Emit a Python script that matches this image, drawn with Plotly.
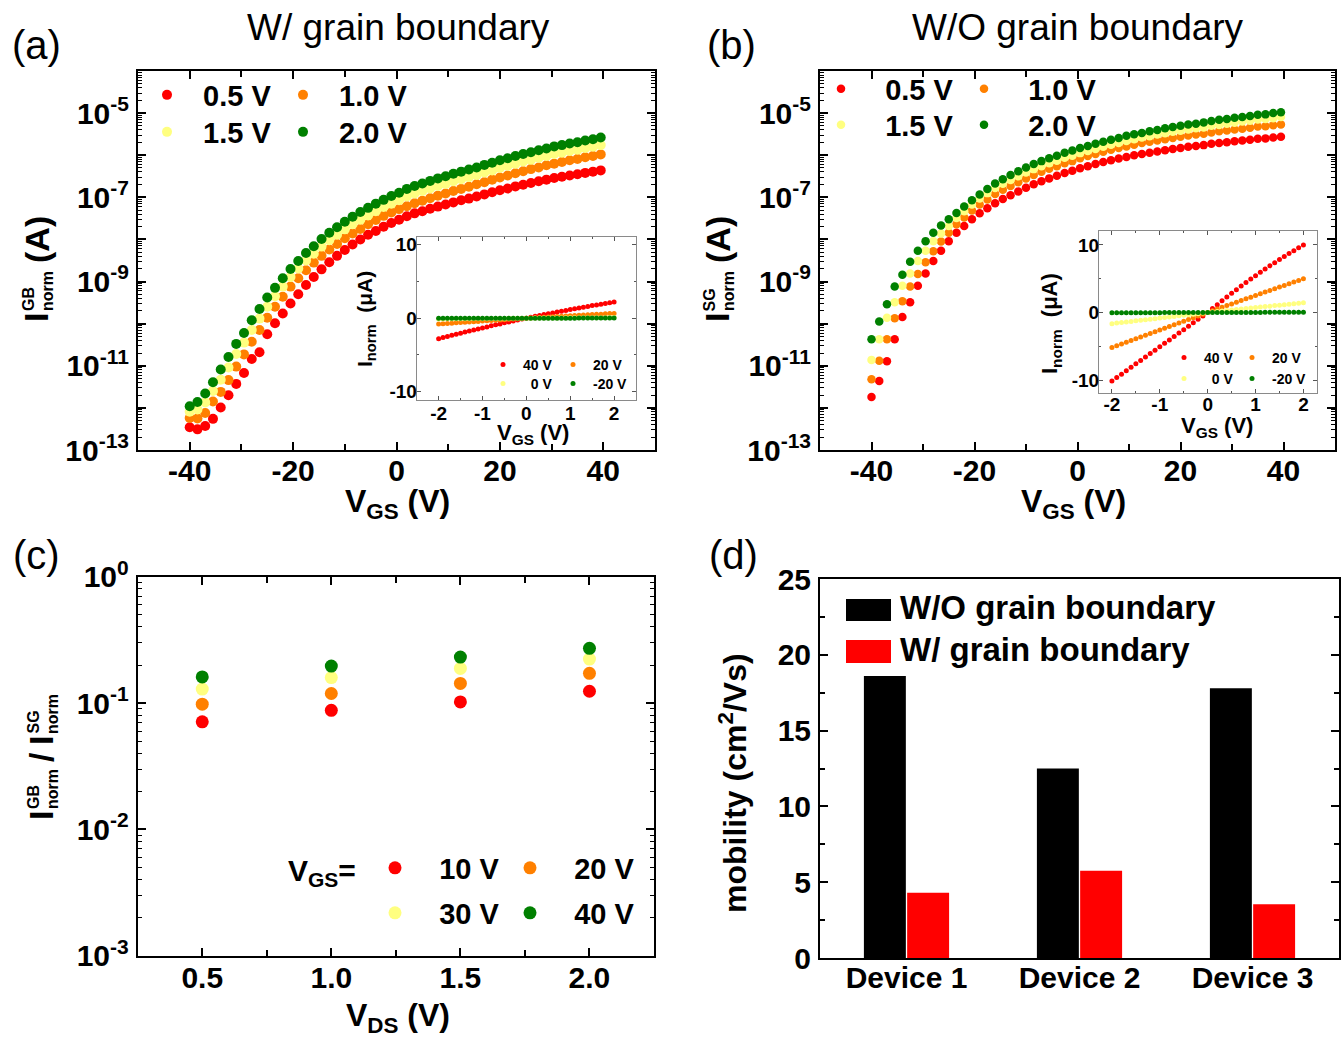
import plotly.graph_objects as go

W, H = 1341, 1039
FONT = "Liberation Sans, Arial, sans-serif"
RED, ORANGE, YELLOW, GREEN = "#FF0000", "#FF8000", "#FFFF80", "#008000"

def fx(px):
    return px / W

def fy(py):
    return 1 - py / H

# ---------------- data ----------------
VGS = [-40.0, -38.5, -37.0, -35.5, -34.0, -32.5, -31.0, -29.5, -28.0, -26.5,
       -25.0, -23.5, -22.0, -20.5, -19.0, -17.5, -16.0, -14.5, -13.0, -11.5,
       -10.0, -8.5, -7.0, -5.5, -4.0, -2.5, -1.0, 0.5, 2.0, 3.5,
       5.0, 6.5, 8.0, 9.5, 11.0, 12.5, 14.0, 15.5, 17.0, 18.5,
       20.0, 21.5, 23.0, 24.5, 26.0, 27.5, 29.0, 30.5, 32.0, 33.5,
       35.0, 36.5, 38.0, 39.5]
VDS_LABELS = ["0.5 V", "1.0 V", "1.5 V", "2.0 V"]

# log10 of I_norm (A), with grain boundary (panel a)
LOG_GB_05 = [-12.46, -12.51, -12.43, -12.26, -11.99, -11.70, -11.43, -11.17, -10.84, -10.68,
             -10.25, -9.99, -9.76, -9.52, -9.30, -9.08, -8.89, -8.71, -8.54, -8.39,
             -8.25, -8.12, -8.00, -7.89, -7.80, -7.70, -7.61, -7.53, -7.45, -7.38,
             -7.33, -7.27, -7.22, -7.17, -7.12, -7.07, -7.03, -6.98, -6.93, -6.88,
             -6.83, -6.79, -6.74, -6.70, -6.66, -6.62, -6.58, -6.54, -6.51, -6.48,
             -6.45, -6.42, -6.39, -6.36]
LOG_GB_10 = [-12.24, -12.25, -12.12, -11.85, -11.62, -11.34, -11.02, -10.73, -10.43, -10.15,
             -9.86, -9.60, -9.36, -9.12, -8.92, -8.73, -8.55, -8.39, -8.24, -8.11,
             -7.97, -7.86, -7.75, -7.64, -7.54, -7.44, -7.36, -7.28, -7.21, -7.14,
             -7.08, -7.02, -6.96, -6.91, -6.85, -6.80, -6.75, -6.69, -6.64, -6.58,
             -6.53, -6.48, -6.43, -6.38, -6.33, -6.29, -6.24, -6.20, -6.16, -6.12,
             -6.09, -6.05, -6.02, -5.98]
LOG_GB_15 = [-12.09, -12.04, -11.87, -11.60, -11.33, -11.04, -10.72, -10.45, -10.15, -9.88,
             -9.60, -9.35, -9.12, -8.89, -8.69, -8.50, -8.34, -8.17, -8.02, -7.89,
             -7.76, -7.64, -7.53, -7.43, -7.33, -7.23, -7.15, -7.07, -6.98, -6.91,
             -6.85, -6.79, -6.73, -6.68, -6.62, -6.57, -6.52, -6.47, -6.41, -6.36,
             -6.30, -6.25, -6.20, -6.15, -6.11, -6.06, -6.02, -5.97, -5.94, -5.90,
             -5.87, -5.83, -5.80, -5.76]
LOG_GB_20 = [-11.96, -11.86, -11.66, -11.39, -11.09, -10.79, -10.48, -10.22, -9.92, -9.65,
             -9.38, -9.15, -8.92, -8.70, -8.51, -8.32, -8.16, -7.99, -7.84, -7.71,
             -7.58, -7.46, -7.35, -7.25, -7.15, -7.06, -6.97, -6.89, -6.80, -6.73,
             -6.67, -6.61, -6.55, -6.50, -6.44, -6.39, -6.34, -6.29, -6.23, -6.18,
             -6.12, -6.07, -6.02, -5.97, -5.93, -5.88, -5.84, -5.79, -5.76, -5.72,
             -5.69, -5.65, -5.62, -5.58]

# log10 of I_norm (A), single grain (panel b)
LOG_SG_05 = [-11.74, -11.36, -10.89, -10.37, -9.84, -9.49, -9.10, -8.81, -8.51, -8.27,
             -8.04, -7.84, -7.68, -7.52, -7.38, -7.26, -7.14, -7.04, -6.95, -6.86,
             -6.77, -6.69, -6.62, -6.55, -6.49, -6.42, -6.37, -6.31, -6.26, -6.21,
             -6.16, -6.12, -6.08, -6.04, -6.00, -5.97, -5.94, -5.91, -5.88, -5.85,
             -5.83, -5.80, -5.78, -5.76, -5.73, -5.71, -5.69, -5.67, -5.65, -5.63,
             -5.61, -5.60, -5.58, -5.56]
LOG_SG_10 = [-11.32, -10.88, -10.37, -9.87, -9.47, -9.12, -8.82, -8.54, -8.28, -8.05,
             -7.84, -7.64, -7.48, -7.31, -7.17, -7.05, -6.92, -6.82, -6.73, -6.64,
             -6.55, -6.47, -6.39, -6.32, -6.26, -6.19, -6.14, -6.07, -6.02, -5.97,
             -5.92, -5.87, -5.83, -5.79, -5.75, -5.71, -5.68, -5.65, -5.62, -5.59,
             -5.56, -5.53, -5.51, -5.49, -5.46, -5.43, -5.41, -5.39, -5.37, -5.35,
             -5.32, -5.31, -5.29, -5.27]
LOG_SG_15 = [-10.86, -10.37, -9.86, -9.49, -9.10, -8.81, -8.51, -8.27, -8.04, -7.86,
             -7.68, -7.49, -7.33, -7.17, -7.03, -6.90, -6.78, -6.68, -6.59, -6.50,
             -6.41, -6.33, -6.26, -6.19, -6.13, -6.06, -6.01, -5.95, -5.90, -5.85,
             -5.80, -5.75, -5.71, -5.66, -5.62, -5.58, -5.55, -5.51, -5.48, -5.44,
             -5.42, -5.39, -5.36, -5.34, -5.30, -5.28, -5.25, -5.23, -5.20, -5.18,
             -5.15, -5.14, -5.12, -5.09]
LOG_SG_20 = [-10.37, -9.95, -9.54, -9.12, -8.84, -8.53, -8.27, -8.04, -7.84, -7.67,
             -7.52, -7.37, -7.22, -7.07, -6.93, -6.80, -6.67, -6.57, -6.47, -6.38,
             -6.29, -6.21, -6.14, -6.07, -6.01, -5.94, -5.89, -5.83, -5.78, -5.73,
             -5.68, -5.63, -5.59, -5.54, -5.50, -5.47, -5.43, -5.40, -5.36, -5.33,
             -5.30, -5.27, -5.25, -5.22, -5.19, -5.16, -5.14, -5.11, -5.09, -5.07,
             -5.04, -5.03, -5.00, -4.98]

# insets: I_norm (uA) vs V (V) for several gate voltages
VIN = [-2.0, -1.9, -1.8, -1.7, -1.6, -1.5, -1.4, -1.3, -1.2, -1.1, -1.0,
       -0.9, -0.8, -0.7, -0.6, -0.5, -0.4, -0.3, -0.2, -0.1, 0.0,
       0.1, 0.2, 0.3, 0.4, 0.5, 0.6, 0.7, 0.8, 0.9, 1.0,
       1.1, 1.2, 1.3, 1.4, 1.5, 1.6, 1.7, 1.8, 1.9, 2.0]
INSET_LABELS = ["40 V", "20 V", "0 V", "-20 V"]
INA_40 = [-2.80, -2.65, -2.49, -2.34, -2.19, -2.04, -1.90, -1.75, -1.61, -1.47, -1.33,
          -1.19, -1.05, -0.91, -0.78, -0.64, -0.51, -0.38, -0.25, -0.13, 0.00,
          0.12, 0.25, 0.37, 0.49, 0.61, 0.72, 0.84, 0.95, 1.06, 1.18,
          1.28, 1.39, 1.50, 1.60, 1.71, 1.81, 1.91, 2.01, 2.10, 2.20]
INA_20 = [-0.80, -0.76, -0.72, -0.68, -0.64, -0.60, -0.56, -0.52, -0.48, -0.44, -0.40,
          -0.36, -0.32, -0.28, -0.24, -0.20, -0.16, -0.12, -0.08, -0.04, 0.00,
          0.03, 0.07, 0.10, 0.13, 0.17, 0.20, 0.23, 0.26, 0.30, 0.33,
          0.36, 0.39, 0.43, 0.46, 0.49, 0.52, 0.55, 0.59, 0.62, 0.65]
INA_0 = [-0.10, -0.10, -0.09, -0.09, -0.08, -0.08, -0.07, -0.07, -0.06, -0.06, -0.05,
         -0.05, -0.04, -0.04, -0.03, -0.03, -0.02, -0.02, -0.01, -0.01, 0.00,
         0.00, 0.01, 0.01, 0.02, 0.02, 0.02, 0.03, 0.03, 0.04, 0.04,
         0.04, 0.05, 0.05, 0.06, 0.06, 0.06, 0.07, 0.07, 0.08, 0.08]
INA_M20 = [-0.02, -0.02, -0.02, -0.02, -0.02, -0.02, -0.01, -0.01, -0.01, -0.01, -0.01,
           -0.01, -0.01, -0.01, -0.01, 0.00, 0.00, 0.00, 0.00, 0.00, 0.00,
           0.00, 0.00, 0.00, 0.00, 0.00, 0.00, 0.00, 0.00, 0.00, 0.00,
           0.00, 0.01, 0.01, 0.01, 0.01, 0.01, 0.01, 0.01, 0.01, 0.01]
INB_40 = [-10.15, -9.64, -9.13, -8.62, -8.12, -7.61, -7.10, -6.59, -6.09, -5.58, -5.07,
          -4.56, -4.06, -3.55, -3.04, -2.54, -2.03, -1.52, -1.01, -0.51, 0.00,
          0.59, 1.16, 1.73, 2.29, 2.84, 3.38, 3.91, 4.43, 4.95, 5.45,
          5.95, 6.43, 6.91, 7.38, 7.84, 8.29, 8.73, 9.16, 9.59, 10.00]
INB_20 = [-5.20, -4.94, -4.68, -4.42, -4.16, -3.90, -3.64, -3.38, -3.12, -2.86, -2.60,
          -2.34, -2.08, -1.82, -1.56, -1.30, -1.04, -0.78, -0.52, -0.26, 0.00,
          0.26, 0.51, 0.77, 1.02, 1.27, 1.52, 1.77, 2.02, 2.27, 2.52,
          2.77, 3.02, 3.27, 3.52, 3.76, 4.01, 4.25, 4.50, 4.75, 5.00]
INB_0 = [-1.65, -1.57, -1.49, -1.40, -1.32, -1.24, -1.16, -1.07, -0.99, -0.91, -0.83,
         -0.74, -0.66, -0.58, -0.50, -0.41, -0.33, -0.25, -0.17, -0.08, 0.00,
         0.07, 0.15, 0.22, 0.29, 0.36, 0.44, 0.51, 0.58, 0.65, 0.73,
         0.80, 0.87, 0.94, 1.02, 1.09, 1.16, 1.23, 1.31, 1.38, 1.45]
INB_M20 = [-0.05, -0.05, -0.05, -0.04, -0.04, -0.04, -0.04, -0.03, -0.03, -0.03, -0.03,
           -0.02, -0.02, -0.02, -0.02, -0.01, -0.01, -0.01, -0.01, 0.00, 0.00,
           0.00, 0.00, 0.00, 0.00, 0.01, 0.01, 0.01, 0.01, 0.01, 0.01,
           0.01, 0.02, 0.02, 0.02, 0.02, 0.02, 0.02, 0.02, 0.02, 0.02]

# panel c: ratio I_GB / I_SG vs VDS
VDS_C = [0.5, 1.0, 1.5, 2.0]
VGS_LABELS = ["10 V", "20 V", "30 V", "40 V"]
RATIO_10 = [0.071, 0.0875, 0.102, 0.124]
RATIO_20 = [0.098, 0.119, 0.143, 0.172]
RATIO_30 = [0.129, 0.159, 0.188, 0.223]
RATIO_40 = [0.161, 0.196, 0.231, 0.271]

# panel d: mobility
DEVICES = ["Device 1", "Device 2", "Device 3"]
MOB_WO = [18.6, 12.5, 17.8]
MOB_W = [4.3, 5.75, 3.55]

# ---------------- traces ----------------
fig = go.Figure()
COLORS = [RED, ORANGE, YELLOW, GREEN]

def pts(x, y, color, name, xa, ya, size, legend, lw=None):
    return go.Scatter(x=x, y=y, mode="markers", name=name,
                      marker=dict(color=color, size=size, line=dict(width=0)),
                      xaxis=xa, yaxis=ya, legend=legend, showlegend=True,
                      legendwidth=lw, hoverinfo="skip")

NB2 = "\u00a0\u00a0"
NB3 = "\u00a0\u00a0\u00a0"

def add_group(series_list, labels, xa, ya, size, legs, lw2):
    for k, series in enumerate(series_list):
        fig.add_trace(pts(series[0], series[1], COLORS[k], labels[k], xa, ya, size,
                          legs[k // 2], lw2 if k % 2 == 1 else None))

# right-aligned inset legend labels (Origin style)
INSET_NAMES = [INSET_LABELS[0], INSET_LABELS[1], NB2 + INSET_LABELS[2], INSET_LABELS[3]]

# panel a
add_group([(VGS, [10 ** v for v in s]) for s in [LOG_GB_05, LOG_GB_10, LOG_GB_15, LOG_GB_20]],
          [NB2 + t for t in VDS_LABELS], "x", "y", 10, ["legend", "legend2"], 120)
# inset a
add_group([(VIN, s) for s in [INA_40, INA_20, INA_0, INA_M20]],
          INSET_NAMES, "x2", "y2", 5, ["legend3", "legend4"], 50)
# panel b
add_group([(VGS, [10 ** v for v in s]) for s in [LOG_SG_05, LOG_SG_10, LOG_SG_15, LOG_SG_20]],
          [NB3 + t for t in VDS_LABELS], "x3", "y3", 8.5, ["legend5", "legend6"], 120)
# inset b
add_group([(VIN, s) for s in [INB_40, INB_20, INB_0, INB_M20]],
          INSET_NAMES, "x4", "y4", 5, ["legend7", "legend8"], 50)
# panel c
add_group([(VDS_C, s) for s in [RATIO_10, RATIO_20, RATIO_30, RATIO_40]],
          [NB3 + t for t in VGS_LABELS], "x5", "y5", 13, ["legend9", "legend10"], 110)
# panel d
fig.add_trace(go.Bar(x=DEVICES, y=MOB_WO, name="W/O grain boundary",
                     marker=dict(color="black", line=dict(width=0)),
                     xaxis="x6", yaxis="y6", legend="legend11", hoverinfo="skip"))
fig.add_trace(go.Bar(x=DEVICES, y=MOB_W, name="W/ grain boundary",
                     marker=dict(color=RED, line=dict(width=0)),
                     xaxis="x6", yaxis="y6", legend="legend12", hoverinfo="skip"))

# ---------------- axes ----------------
def main_axis(**kw):
    d = dict(showline=True, linecolor="black", linewidth=2, mirror="allticks",
             ticks="inside", ticklen=8, tickwidth=2, tickcolor="black",
             showgrid=False, zeroline=False, ticklabelstandoff=1,
             tickfont=dict(family=FONT, size=30, color="black", weight="bold"))
    d.update(kw)
    return d

def inset_axis(**kw):
    d = dict(showline=True, linecolor="#8a8a8a", linewidth=1, mirror="allticks",
             ticks="inside", ticklen=4, tickwidth=1, tickcolor="#555555",
             showgrid=False, zeroline=False, ticklabelstandoff=-5,
             tickfont=dict(family=FONT, size=19, color="black", weight="bold"))
    d.update(kw)
    return d

def log_ticks(lo, hi, label_every):
    vals, texts = [], []
    for e in range(lo, hi + 1):
        vals.append(10.0 ** e)
        texts.append("10<sup>%d</sup>" % e if (e - lo) % label_every == 0 else "")
    minor = [m * 10.0 ** e for e in range(lo, hi) for m in range(2, 10)]
    return vals, texts, minor

ya_vals, ya_text, ya_minor = log_ticks(-13, -4, 2)
yc_vals, yc_text, yc_minor = log_ticks(-3, 0, 1)

def minor_log(mv):
    return dict(tickvals=mv, ticks="inside", ticklen=4, tickwidth=1, tickcolor="black")

def minor_lin(tv, ln=6, w=2, c="black"):
    return dict(tickvals=tv, ticks="inside", ticklen=ln, tickwidth=w, tickcolor=c)

VG_TICKS = [-40, -20, 0, 20, 40]
VG_TEXT = ["-40", "-20", "0", "20", "40"]
VI_TICKS = [-2, -1, 0, 1, 2]
VI_TEXT = ["-2", "-1", "0", "1", "2"]

fig.update_layout(
    xaxis=main_axis(domain=[fx(138), fx(655)], anchor="y", range=[-50, 50],
                    tickvals=VG_TICKS, ticktext=VG_TEXT, ticklabelstandoff=-7,
                    minor=minor_lin([-30, -10, 10, 30])),
    yaxis=main_axis(domain=[fy(450), fy(71)], anchor="x", type="log", range=[-13, -4],
                    tickvals=ya_vals, ticktext=ya_text, minor=minor_log(ya_minor)),
    xaxis2=inset_axis(domain=[fx(416.7), fx(636)], anchor="y2", range=[-2.5, 2.5],
                      tickvals=VI_TICKS, ticktext=VI_TEXT, ticklabelstandoff=-4,
                      minor=minor_lin([-1.5, -0.5, 0.5, 1.5], 2, 1, "#555555")),
    yaxis2=inset_axis(domain=[fy(400), fy(236.7)], anchor="x2", range=[-11.15, 11.1],
                      tickvals=[-10, 0, 10], ticktext=["-10", "0", "10"],
                      minor=minor_lin([-5, 5], 2, 1, "#555555")),
    xaxis3=main_axis(domain=[fx(820), fx(1335)], anchor="y3", range=[-50, 50],
                     tickvals=VG_TICKS, ticktext=VG_TEXT, ticklabelstandoff=-7,
                     minor=minor_lin([-30, -10, 10, 30])),
    yaxis3=main_axis(domain=[fy(450), fy(71)], anchor="x3", type="log", range=[-13, -4],
                     tickvals=ya_vals, ticktext=ya_text, minor=minor_log(ya_minor)),
    xaxis4=inset_axis(domain=[fx(1099), fx(1317.3)], anchor="y4", range=[-2.27, 2.29],
                      tickvals=VI_TICKS, ticktext=VI_TEXT, ticklabelstandoff=-6,
                      minor=minor_lin([-1.5, -0.5, 0.5, 1.5], 2, 1, "#555555")),
    yaxis4=inset_axis(domain=[fy(393.3), fy(231)], anchor="x4", range=[-11.97, 12.07],
                      tickvals=[-10, 0, 10], ticktext=["-10", "0", "10"],
                      minor=minor_lin([-5, 5], 2, 1, "#555555")),
    xaxis5=main_axis(domain=[fx(137.7), fx(654)], anchor="y5", range=[0.25, 2.25],
                     tickvals=[0.5, 1.0, 1.5, 2.0], ticktext=["0.5", "1.0", "1.5", "2.0"],
                     ticklabelstandoff=-6, minor=minor_lin([0.75, 1.25, 1.75])),
    yaxis5=main_axis(domain=[fy(955.7), fy(576.7)], anchor="x5", type="log", range=[-3, 0],
                     tickvals=yc_vals, ticktext=yc_text, minor=minor_log(yc_minor)),
    xaxis6=main_axis(domain=[fx(820), fx(1339)], anchor="y6", type="category", range=[-0.5, 2.5],
                     ticks="", mirror=True, ticklabelstandoff=-8),
    yaxis6=main_axis(domain=[fy(958), fy(579)], anchor="x6", range=[0, 25],
                     tickvals=[0, 5, 10, 15, 20, 25],
                     minor=minor_lin([2.5, 7.5, 12.5, 17.5, 22.5], 5)),
    barmode="group", bargap=0.5, bargroupgap=0.03,
)

# ---------------- legends ----------------
def leg(xpx, ypx, size, entrywidth):
    return dict(x=fx(xpx), y=fy(ypx), xanchor="left", yanchor="middle", orientation="h",
                font=dict(family=FONT, size=size, color="black", weight="bold"),
                bgcolor="rgba(0,0,0,0)", borderwidth=0, entrywidth=entrywidth,
                entrywidthmode="pixels", itemclick=False, itemdoubleclick=False,
                tracegroupgap=0, traceorder="normal", itemsizing="trace")

fig.update_layout(
    legend=leg(147, 95, 29, 91),
    legend2=leg(147, 132, 29, 91),
    legend3=leg(483, 365, 14, 25),
    legend4=leg(483, 384, 14, 25),
    legend5=leg(821, 89, 29, 98),
    legend6=leg(821, 125, 29, 98),
    legend7=leg(1164, 358, 14, 23),
    legend8=leg(1164, 379, 14, 23),
    legend9=leg(375, 868, 29, 90),
    legend10=leg(375, 913, 29, 90),
    legend11=leg(860, 606, 33, 330),
    legend12=leg(860, 648, 33, 330),
)

# legend keys for the bar chart drawn as wide rectangles (Origin style)
fig.update_layout(shapes=[
    dict(type="rect", xref="paper", yref="paper", x0=fx(846), x1=fx(891), y0=fy(621), y1=fy(599),
         fillcolor="black", line=dict(width=0), layer="above"),
    dict(type="rect", xref="paper", yref="paper", x0=fx(846), x1=fx(891), y0=fy(663), y1=fy(640),
         fillcolor=RED, line=dict(width=0), layer="above"),
])

# ---------------- text ----------------
def ann(text, xpx, ypx, size, bold=True, angle=0, xanchor="center", yanchor="middle"):
    return dict(text=text, x=fx(xpx), y=fy(ypx), xref="paper", yref="paper", showarrow=False,
                font=dict(family=FONT, size=size, color="black", weight="bold" if bold else "normal"),
                textangle=angle, xanchor=xanchor, yanchor=yanchor, borderpad=0)

SUB = 16
annotations = [
    ann("W/ grain boundary", 398, 27, 37, bold=False),
    ann("W/O grain boundary", 1078, 27, 37, bold=False),
    ann("(a)", 36, 45, 40, bold=False),
    ann("(b)", 731, 45, 40, bold=False),
    ann("(c)", 36, 555, 40, bold=False),
    ann("(d)", 733, 555, 40, bold=False),
    # x titles
    ann("V<sub>GS</sub> (V)", 397, 503, 32),
    ann("V<sub>GS</sub> (V)", 1073, 503, 32),
    ann("V<sub>DS</sub> (V)", 398, 1017, 32),
    ann("V<sub>GS</sub> (V)", 533, 434, 22),
    ann("V<sub>GS</sub> (V)", 1217, 427, 22),
    # inset y titles
    ann("I<sub>norm</sub>  (\u03bcA)", 366, 319, 21, angle=-90),
    ann("I<sub>norm</sub>  (\u03bcA)", 1051, 324, 22, angle=-90),
    # panel a y title (stacked super/subscript)
    ann("I", 36, 318, 34, angle=-90),
    ann("GB", 28, 312, SUB, angle=-90, yanchor="bottom"),
    ann("norm", 47, 312, SUB, angle=-90, yanchor="bottom"),
    ann("(A)", 37, 240, 34, angle=-90),
    # panel b y title
    ann("I", 717, 318, 34, angle=-90),
    ann("SG", 709, 312, SUB, angle=-90, yanchor="bottom"),
    ann("norm", 728, 312, SUB, angle=-90, yanchor="bottom"),
    ann("(A)", 718, 240, 34, angle=-90),
    # panel c y title
    ann("I", 41, 816, 34, angle=-90),
    ann("GB", 33, 810, SUB, angle=-90, yanchor="bottom"),
    ann("norm", 52, 810, SUB, angle=-90, yanchor="bottom"),
    ann("/", 41, 757, 34, angle=-90),
    ann("I", 41, 741, 34, angle=-90),
    ann("SG", 33, 735, SUB, angle=-90, yanchor="bottom"),
    ann("norm", 52, 735, SUB, angle=-90, yanchor="bottom"),
    # panel c legend prefix
    ann("V<sub>GS</sub>=", 322, 872, 30),
    # panel d y title
    ann("mobility (cm<sup>2</sup>/Vs)", 733, 783, 32, angle=-90),
]

fig.update_layout(
    annotations=annotations,
    width=W, height=H, autosize=False,
    margin=dict(l=0, r=0, t=0, b=0, pad=0, autoexpand=False),
    paper_bgcolor="white", plot_bgcolor="white",
    font=dict(family=FONT, color="black"),
)

fig.write_html("out.html", config={"displayModeBar": False})
